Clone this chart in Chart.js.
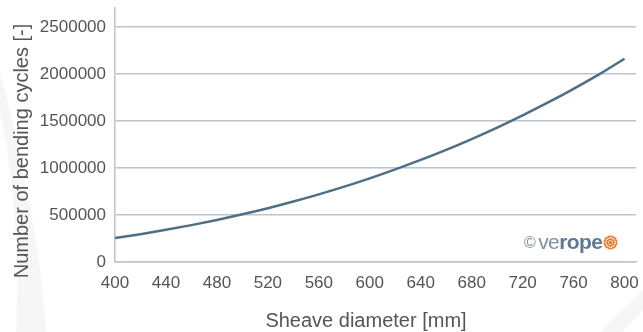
<!DOCTYPE html>
<html>
<head>
<meta charset="utf-8">
<script src="https://cdn.jsdelivr.net/npm/chart.js@4/dist/chart.umd.min.js"></script>
<style>
  body { margin: 0; background: #fff; }
  .wrap { position: relative; width: 643px; height: 332px; overflow: hidden; }
  .logo {
    position: absolute; left: 524px; top: 230px;
    font-family: "Liberation Sans", Arial, sans-serif; font-size: 21px;
    color: #7d90a1; letter-spacing: -0.6px; white-space: nowrap;
  }
  .logo .c { font-size: 16px; margin-right: 3px; vertical-align: 1px; }
  .logo b { color: #5f7a90; }
  .logo .flower {
    display: inline-block; width: 15px; height: 15px; border-radius: 50%;
    margin-left: 1px; vertical-align: -1px;
    background: repeating-radial-gradient(circle, #f07a3c 0 1.5px, #fbd0b4 1.5px 2.6px);
  }
</style>
</head>
<body>
<div class="wrap">
  <canvas id="chart" width="643" height="332"></canvas>
  <div class="logo"><span class="c">©</span>ve<b>rope</b><span class="flower"></span></div>
</div>
<script>
// sheave diameter [mm]
const diameters = [400, 420, 440, 460, 480, 500, 520, 540, 560, 580, 600,
  620, 640, 660, 680, 700, 720, 740, 760, 780, 800];

// number of bending cycles
const cycles = [255000, 296000, 342000, 392000, 447000, 507000, 572000, 643000,
  719000, 801000, 889000, 984000, 1085000, 1192000, 1307000, 1429000, 1559000,
  1696000, 1841000, 1994000, 2160000];

const xTicks = [400, 440, 480, 520, 560, 600, 640, 680, 720, 760, 800];
const yTicks = [0, 500000, 1000000, 1500000, 2000000, 2500000];

const xTitle = 'Sheave diameter [mm]';
const yTitle = 'Number of bending cycles [-]';

const gridColor = '#bcc4cf';
const textColor = '#555';
const fontFamily = '"Liberation Sans", Arial, sans-serif';

// faint watermark shapes behind the chart
const watermarkPlugin = {
  id: 'watermark',
  beforeDraw(chart) {
    const ctx = chart.ctx;
    ctx.save();
    ctx.fillStyle = '#f6f6f6';
    ctx.beginPath();
    ctx.moveTo(0, 110);
    ctx.quadraticCurveTo(22, 220, 16, 332);
    ctx.lineTo(46, 332);
    ctx.quadraticCurveTo(40, 230, 0, 70);
    ctx.closePath();
    ctx.fill();
    ctx.beginPath();
    ctx.moveTo(600, 332);
    ctx.lineTo(643, 290);
    ctx.lineTo(643, 310);
    ctx.lineTo(622, 332);
    ctx.closePath();
    ctx.fill();
    ctx.restore();
  },
};

// axis titles, placed where the reference has them
const axisTitlePlugin = {
  id: 'axisTitles',
  afterDraw(chart) {
    const ctx = chart.ctx;
    ctx.save();
    ctx.font = '20px ' + fontFamily;
    ctx.fillStyle = textColor;
    ctx.textAlign = 'center';
    ctx.textBaseline = 'middle';
    ctx.fillText(xTitle, 366, 321);
    ctx.translate(22, 151);
    ctx.rotate(-Math.PI / 2);
    ctx.fillText(yTitle, 0, 0);
    ctx.restore();
  },
};

new Chart(document.getElementById('chart'), {
  type: 'line',
  data: {
    datasets: [{
      data: diameters.map((d, i) => ({ x: d, y: cycles[i] })),
      borderColor: '#4f6f85',
      borderWidth: 2.5,
      pointRadius: 0,
      cubicInterpolationMode: 'monotone',
      fill: false,
    }],
  },
  options: {
    responsive: false,
    animation: false,
    layout: { padding: { top: 8, right: 7, left: 0, bottom: 0 } },
    plugins: { legend: { display: false }, tooltip: { enabled: false } },
    scales: {
      x: {
        type: 'linear',
        min: 400,
        max: 809,
        afterBuildTicks: (scale) => {
          scale.ticks = xTicks.map((v) => ({ value: v }));
        },
        afterFit: (scale) => {
          scale.height = 70;
          scale.paddingLeft = 0;
          scale.paddingRight = 0;
        },
        ticks: {
          padding: 11,
          color: textColor,
          font: { family: fontFamily, size: 17 },
          maxRotation: 0,
          autoSkip: false,
          callback: (v) => String(v),
        },
        grid: { color: 'transparent', drawTicks: false },
        border: { color: gridColor, width: 1.5 },
      },
      y: {
        min: 0,
        max: 2700000,
        afterBuildTicks: (scale) => {
          scale.ticks = yTicks.map((v) => ({ value: v }));
        },
        afterFit: (scale) => {
          scale.width = 115;
          scale.paddingTop = 0;
          scale.paddingBottom = 0;
        },
        ticks: {
          padding: 9,
          color: textColor,
          font: { family: fontFamily, size: 17 },
          autoSkip: false,
          callback: (v) => String(v),
        },
        grid: { color: gridColor, lineWidth: 1.5, drawTicks: false },
        border: { color: gridColor, width: 1.5 },
      },
    },
  },
  plugins: [watermarkPlugin, axisTitlePlugin],
});
</script>
</body>
</html>
